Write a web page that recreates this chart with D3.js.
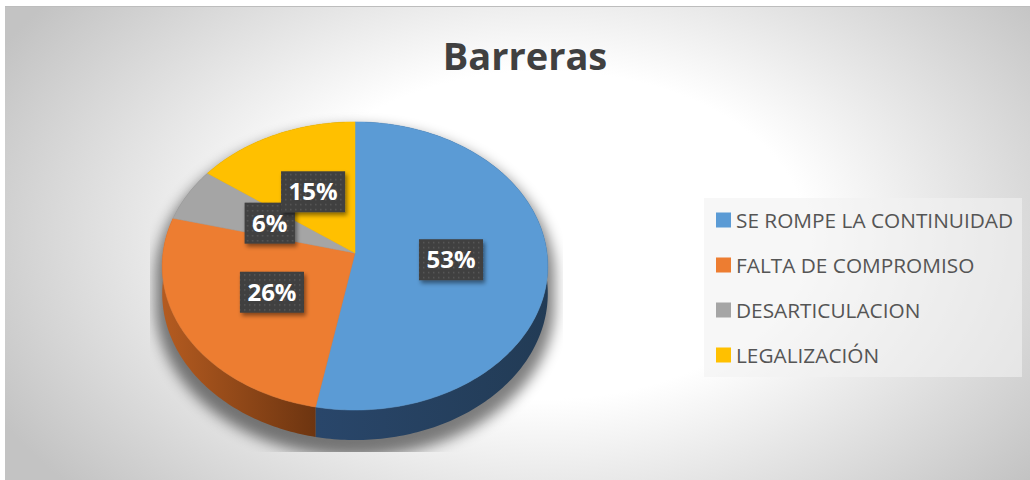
<!DOCTYPE html>
<html>
<head>
<meta charset="utf-8">
<script src="https://d3js.org/d3.v7.min.js"></script>
<style>
  html, body { margin: 0; padding: 0; background: #fff; }
  svg { display: block; }
</style>
</head>
<body>
<script>
// chart data
const categories = ["SE ROMPE LA CONTINUIDAD", "FALTA DE COMPROMISO", "DESARTICULACION", "LEGALIZACIÓN"];
const values = [53, 26, 6, 15];
const labels = ["53%", "26%", "6%", "15%"];
const colors = ["#5b9bd5", "#ed7d31", "#a5a5a5", "#ffc000"];
const title = "Barreras";

const width = 1030, height = 480;

// pie geometry (3D tilted disc with a bit of perspective)
const cx = 355, cy = 253;
const R = 192, Ry = 142.9, depth = 27.3, persp = 0.09;

const svg = d3.select("body").append("svg")
  .attr("width", width)
  .attr("height", height);

const defs = svg.append("defs");

// background gradient
const bg = defs.append("radialGradient")
  .attr("id", "bg")
  .attr("gradientUnits", "userSpaceOnUse")
  .attr("cx", 0).attr("cy", 0).attr("r", 1)
  .attr("gradientTransform", "translate(545,235) scale(620,390)");
bg.append("stop").attr("offset", 0).attr("stop-color", "#ffffff");
bg.append("stop").attr("offset", 0.42).attr("stop-color", "#ffffff");
bg.append("stop").attr("offset", 1).attr("stop-color", "#c3c3c3");

// side gradients
const sideGrad = [
  ["#29466a", "#223b55", 318, 549],
  ["#b45b20", "#6c3410", 163, 318],
  ["#7a7a7a", "#5a5a5a", 163, 318],
  ["#b88a00", "#8a6700", 163, 318]
];
sideGrad.forEach((g, i) => {
  const lg = defs.append("linearGradient")
    .attr("id", "side" + i)
    .attr("gradientUnits", "userSpaceOnUse")
    .attr("x1", g[2]).attr("x2", g[3]).attr("y1", 0).attr("y2", 0);
  lg.append("stop").attr("offset", 0).attr("stop-color", g[0]);
  lg.append("stop").attr("offset", 1).attr("stop-color", g[1]);
});

// dotted label pattern
const pat = defs.append("pattern")
  .attr("id", "dots")
  .attr("patternUnits", "userSpaceOnUse")
  .attr("width", 5).attr("height", 5);
pat.append("rect").attr("width", 5).attr("height", 5).attr("fill", "#3f3f3f");
pat.append("rect").attr("x", 2).attr("y", 2).attr("width", 1.5).attr("height", 1.5).attr("fill", "#595959");

const lblShadow = defs.append("filter").attr("id", "lblShadow")
  .attr("x", "-30%").attr("y", "-30%").attr("width", "160%").attr("height", "170%");
lblShadow.append("feDropShadow")
  .attr("dx", 2).attr("dy", 3).attr("stdDeviation", 2)
  .attr("flood-color", "#000").attr("flood-opacity", 0.45);

const pieShadow = defs.append("filter").attr("id", "pieShadow")
  .attr("x", "-20%").attr("y", "-20%").attr("width", "140%").attr("height", "140%");
pieShadow.append("feGaussianBlur").attr("stdDeviation", 7);

defs.append("clipPath").attr("id", "plotClip")
  .append("rect").attr("x", 150).attr("y", 105).attr("width", 413).attr("height", 347);

// chart area
svg.append("rect")
  .attr("x", 5).attr("y", 6)
  .attr("width", width - 5).attr("height", height - 6)
  .attr("fill", "url(#bg)");
svg.append("line")
  .attr("x1", 5).attr("x2", width).attr("y1", 6.5).attr("y2", 6.5)
  .attr("stroke", "#bdbdbd").attr("stroke-width", 1);

// title
svg.append("text")
  .attr("x", 525).attr("y", 70)
  .attr("text-anchor", "middle")
  .style("font-family", "'Open Sans', sans-serif")
  .style("font-weight", "bold")
  .style("font-size", "38px")
  .style("fill", "#404040")
  .text(title);

// projection of a point on the disc: theta clockwise from top, k = fraction of radius
function proj(theta, k, dz) {
  const u = k * Math.sin(theta), v = -k * Math.cos(theta);
  const f = 1 / (1 - persp * v);
  return [cx + R * u * f, cy + (Ry * v + dz) * f];
}

function arcPoints(a0, a1, dz) {
  const n = Math.max(2, Math.ceil((a1 - a0) / (Math.PI / 180)));
  const pts = [];
  for (let i = 0; i <= n; i++) pts.push(proj(a0 + (a1 - a0) * i / n, 1, dz));
  return pts;
}

const line = d3.line();
const pie = d3.pie().sort(null).value(d => d);
const arcs = pie(values);

// drop shadow under the whole pie
const outline = arcPoints(0, 2 * Math.PI, 0)
  .concat(arcPoints(0, 2 * Math.PI, depth));
const hullPts = d3.polygonHull(outline).map(p => [
  cx + (p[0] - cx) * 1.035,
  cy + 10 + (p[1] - cy) * 1.035
]);
svg.append("g").attr("clip-path", "url(#plotClip)")
  .append("path")
  .attr("d", line(hullPts) + "Z")
  .attr("fill", "#000")
  .attr("opacity", 0.5)
  .attr("filter", "url(#pieShadow)");

// side walls
const gPie = svg.append("g");
arcs.forEach((a, i) => {
  const top = arcPoints(a.startAngle, a.endAngle, 0);
  const bot = arcPoints(a.startAngle, a.endAngle, depth).reverse();
  gPie.append("path")
    .attr("d", line(top.concat(bot)) + "Z")
    .attr("fill", "url(#side" + i + ")");
});

// top faces
arcs.forEach((a, i) => {
  const pts = [[cx, cy]].concat(arcPoints(a.startAngle, a.endAngle, 0));
  gPie.append("path")
    .attr("d", line(pts) + "Z")
    .attr("fill", colors[i])
    .attr("stroke", colors[i])
    .attr("stroke-width", 0.5);
});

// data labels
arcs.forEach((a, i) => {
  const c = proj((a.startAngle + a.endAngle) / 2, 0.5, 0);
  const g = svg.append("g").attr("transform", `translate(${c[0]},${c[1]})`);
  const box = g.append("rect").attr("fill", "url(#dots)").attr("filter", "url(#lblShadow)");
  const t = g.append("text")
    .attr("text-anchor", "middle")
    .attr("dy", "0.36em")
    .style("font-family", "'Open Sans', sans-serif")
    .style("font-weight", "bold")
    .style("font-size", "24px")
    .style("fill", "#ffffff")
    .text(labels[i]);
  const w = t.node().getComputedTextLength() + 15;
  box.attr("x", -w / 2).attr("y", -20.5).attr("width", w).attr("height", 41);
});

// legend
const legend = svg.append("g");
legend.append("rect")
  .attr("x", 704).attr("y", 198).attr("width", 318).attr("height", 179)
  .attr("fill", "#f2f2f2").attr("opacity", 0.6);
const ly = d3.scalePoint().domain(categories).range([220, 355]);
categories.forEach((c, i) => {
  legend.append("rect")
    .attr("x", 716).attr("y", ly(c) - 7.5)
    .attr("width", 15).attr("height", 15)
    .attr("fill", colors[i]);
  legend.append("text")
    .attr("x", 736).attr("y", ly(c) + 7.5)
    .style("font-family", "'Open Sans', sans-serif")
    .style("font-size", "20.8px")
    .style("fill", "#555555")
    .text(c);
});
</script>
</body>
</html>
